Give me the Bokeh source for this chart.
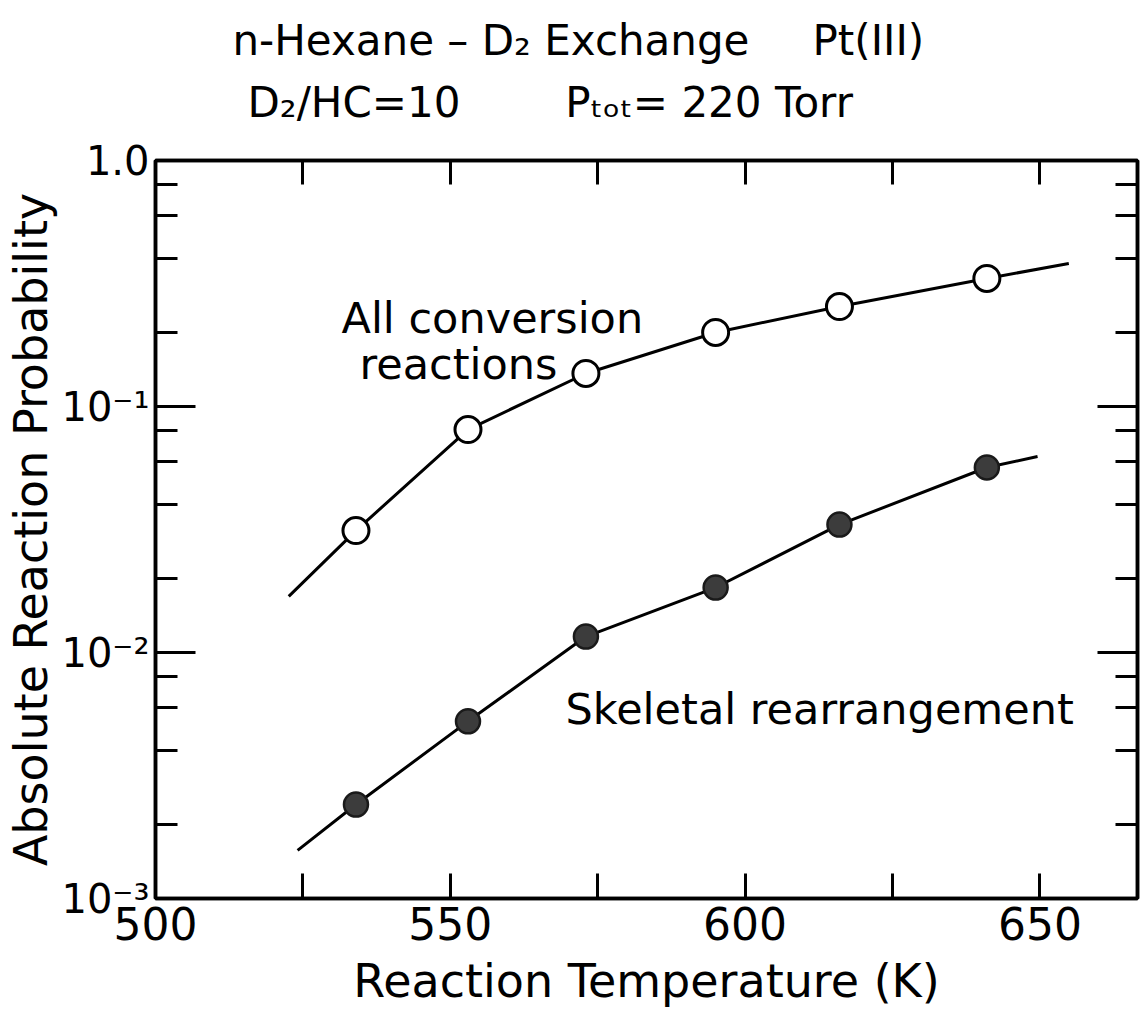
from bokeh.plotting import figure
from bokeh.models import Range1d, FixedTicker, LinearAxis, LogAxis, Label, Title
from bokeh.embed import file_html
from bokeh.resources import INLINE

# ---- data ----
temps = [534, 553, 573, 595, 616, 641]                      # Reaction temperature (K)
all_conversion = [0.0313, 0.0806, 0.1362, 0.200, 0.2549, 0.3315]  # open circles
skeletal = [0.00241, 0.00525, 0.01161, 0.01837, 0.0331, 0.0565]   # filled circles

# hand-drawn curves (their ends run past the first and last points)
all_curve_T = [522.6, 534, 553, 573, 595, 616, 641, 654.9]
all_curve_P = [0.0169, 0.0313, 0.0806, 0.1362, 0.200, 0.2549, 0.3315, 0.3814]
skel_curve_T = [524.1, 534, 553, 573, 595, 616, 641, 649.6]
skel_curve_P = [0.00157, 0.00241, 0.00525, 0.01161, 0.01837, 0.0331, 0.0565, 0.0626]

x_tick_vals = [500, 550, 600, 650]
x_tick_labels = ["500", "550", "600", "650"]
x_minor_ticks = [525, 575, 625]
x_top_ticks = [525, 550, 575, 600, 625, 650]
y_decades = [1.0, 0.1, 0.01, 0.001]
y_tick_labels = ["1.0", "10\u207b\u00b9", "10\u207b\u00b2", "10\u207b\u00b3"]
y_minor_mult = [2, 4, 6, 8]

title_line1 = "n-Hexane \u2013 D\u2082 Exchange\u2003\u2002Pt(III)"
title_line2 = "D\u2082/HC=10\u2003\u2003\u2002P\u209c\u2092\u209c= 220 Torr"

FONT = "DejaVu Sans"
X0, X1 = 500, 666.55
Y0, Y1 = 1e-3, 1.0
FL, FR, FT, FB = 155, 1137, 160, 898   # frame edges in page pixels

p = figure(width=1142, height=1021, x_range=Range1d(X0, X1), y_range=Range1d(Y0, Y1),
           y_axis_type="log", output_backend="svg", toolbar_location=None,
           title_location=None,
           min_border_left=FL, min_border_right=1142 - FR, min_border_top=FT,
           min_border_bottom=1021 - FB)
p.background_fill_color = "white"
p.border_fill_color = "white"
p.outline_line_color = "black"
p.outline_line_width = 3.5
p.xgrid.visible = False
p.ygrid.visible = False

y_minor = [m * d for d in y_decades[1:] for m in y_minor_mult]


def hide_labels(ax):
    ax.major_label_text_font_size = "1px"
    ax.major_label_text_color = None
    ax.major_label_standoff = 0


# bottom axis
xa = p.xaxis[0]
xa.ticker = FixedTicker(ticks=x_tick_vals, minor_ticks=x_minor_ticks)
xa.major_label_overrides = {v: s for v, s in zip(x_tick_vals, x_tick_labels)}
xa.major_tick_in = 25
xa.major_tick_out = 0
xa.minor_tick_in = 25
xa.minor_tick_out = 0
xa.major_tick_line_width = 3
xa.minor_tick_line_width = 3
xa.axis_line_width = 3.5
xa.major_label_standoff = 8
xa.major_label_text_font = FONT
xa.major_label_text_font_size = "44px"
xa.major_label_text_color = "black"
xa.axis_label = "Reaction Temperature (K)"
xa.axis_label_standoff = 11
xa.axis_label_text_font = FONT
xa.axis_label_text_font_size = "46px"
xa.axis_label_text_font_style = "normal"
xa.axis_label_text_color = "black"

# left axis
ya = p.yaxis[0]
ya.ticker = FixedTicker(ticks=y_decades, minor_ticks=y_minor)
ya.major_label_overrides = {v: s for v, s in zip(y_decades, y_tick_labels)}
ya.major_tick_in = 40
ya.major_tick_out = 0
ya.minor_tick_in = 22
ya.minor_tick_out = 0
ya.major_tick_line_width = 3
ya.minor_tick_line_width = 3
ya.axis_line_width = 3.5
ya.major_label_standoff = 6
ya.major_label_text_font = FONT
ya.major_label_text_font_size = "40px"
ya.major_label_text_color = "black"
ya.axis_label = "Absolute Reaction Probability"
ya.axis_label_standoff = 0
ya.axis_label_text_font = FONT
ya.axis_label_text_font_size = "46px"
ya.axis_label_text_font_style = "normal"
ya.axis_label_text_color = "black"

# right axis
ra = LogAxis(ticker=FixedTicker(ticks=y_decades, minor_ticks=y_minor),
             major_tick_in=40, major_tick_out=0, minor_tick_in=22, minor_tick_out=0,
             major_tick_line_width=3, minor_tick_line_width=3, axis_line_width=3.5)
hide_labels(ra)
p.add_layout(ra, "right")

# top axis
ta = LinearAxis(ticker=FixedTicker(ticks=x_top_ticks, minor_ticks=[]),
                major_tick_in=24, major_tick_out=0, minor_tick_in=0, minor_tick_out=0,
                major_tick_line_width=3, axis_line_width=3.5)
hide_labels(ta)
p.add_layout(ta, "above")

# two-line title (added after the top axis, so the first added sits lower)
p.add_layout(Title(text=title_line2, align="left", offset=92, standoff=68,
                   text_font=FONT, text_font_size="42px", text_font_style="normal",
                   text_color="black"), "above")
p.add_layout(Title(text=title_line1, align="left", offset=77, standoff=-46,
                   text_font=FONT, text_font_size="42px", text_font_style="normal",
                   text_color="black"), "above")

# curves and points
p.line(all_curve_T, all_curve_P, line_color="black", line_width=3)
p.line(skel_curve_T, skel_curve_P, line_color="black", line_width=3)
p.scatter(temps, all_conversion, size=26, fill_color="white", line_color="black", line_width=3)
p.scatter(temps, skeletal, size=24, fill_color="#3c3c3c", line_color="#1a1a1a", line_width=2.5)


def xd(px):
    return X0 + (px - FL) * (X1 - X0) / (FR - FL)


def yd(py):
    dec = (FB - FT) / 3.0
    return 10 ** (-(py - FT) / dec)


def lab(text, px, py, size, align="left"):
    p.add_layout(Label(x=xd(px), y=yd(py), text=text, text_font=FONT,
                       text_font_size=f"{size}px", text_color="black",
                       text_align=align, text_baseline="alphabetic"))


# curve annotations
lab("All conversion", 341, 317, 43)
lab("reactions", 359, 363, 43)
lab("Skeletal rearrangement", 565, 708, 43)

open("out.html", "w").write(file_html(p, INLINE))
